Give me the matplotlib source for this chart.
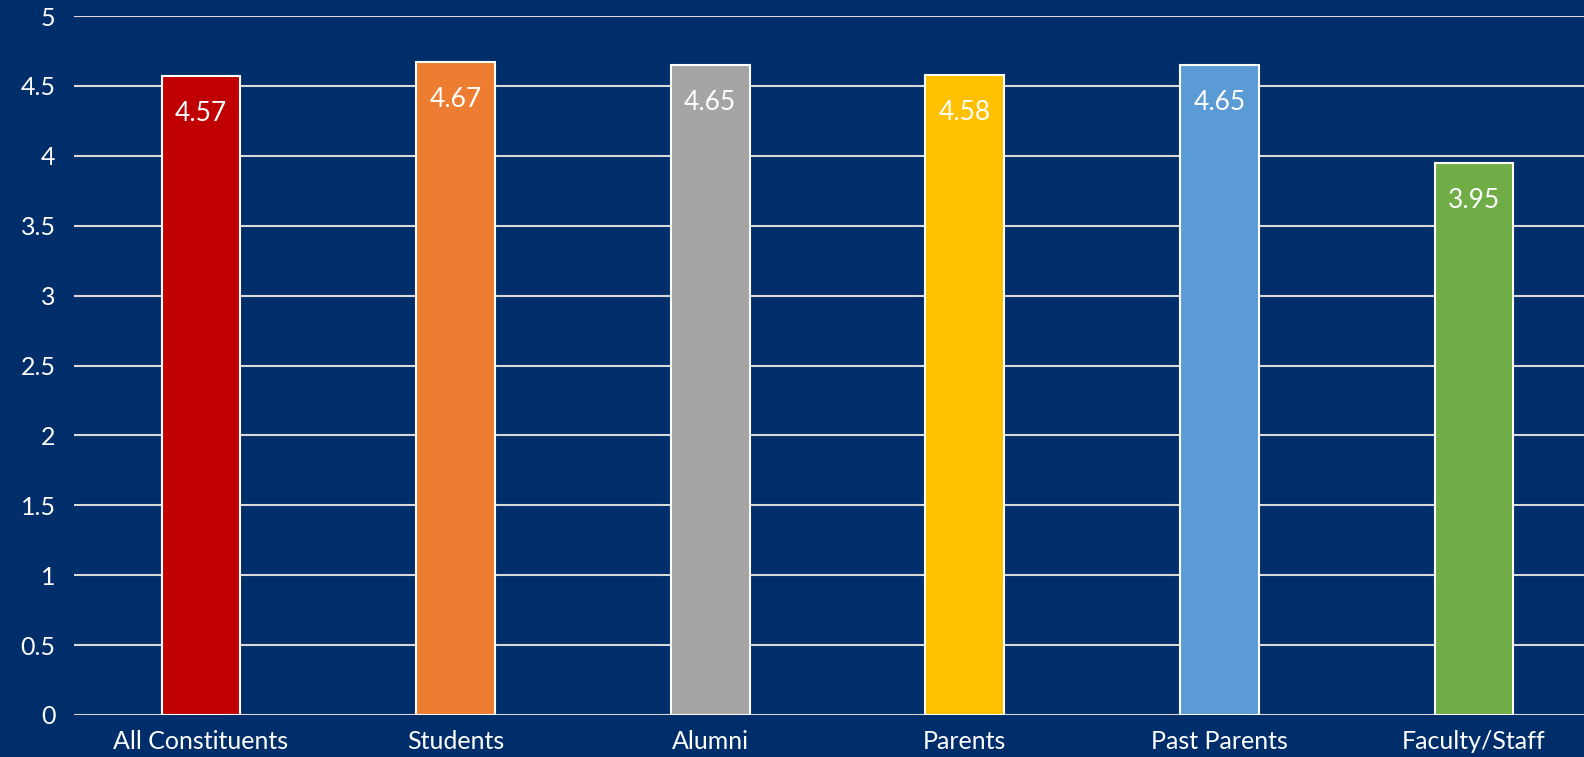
import matplotlib
matplotlib.use("Agg")
import numpy as np
import matplotlib.pyplot as plt

# data
categories = ["All Constituents", "Students", "Alumni", "Parents", "Past Parents", "Faculty/Staff"]
scores = [4.57, 4.67, 4.65, 4.58, 4.65, 3.95]
bar_colors = ["#C00000", "#ED7D31", "#A5A5A5", "#FFC000", "#5B9BD5", "#70AD47"]
yticks = [0, 0.5, 1, 1.5, 2, 2.5, 3, 3.5, 4, 4.5, 5]
ytick_labels = ["0", "0.5", "1", "1.5", "2", "2.5", "3", "3.5", "4", "4.5", "5"]

bg = "#002E6B"
plt.rcParams["font.family"] = ["Lato", "DejaVu Sans"]

fig = plt.figure(figsize=(15.84, 7.57), dpi=100, facecolor=bg)
# axes runs a little past the right edge, like the original crop
ax = fig.add_axes([73.7 / 1584, 1 - 715 / 757, 1527.6 / 1584, 699 / 757])
ax.set_facecolor(bg)

x = np.arange(len(categories))
bars = ax.bar(x, scores, width=0.31, color=bar_colors, edgecolor="white",
              linewidth=1.5, zorder=3)

# value labels inside the top of each bar
for rect, v in zip(bars, scores):
    ax.annotate(f"{v:.2f}", (rect.get_x() + rect.get_width() / 2, v),
                xytext=(0, -27), textcoords="offset points",
                ha="center", va="center", color="white", fontsize=19, zorder=4)

ax.set_ylim(0, 5)
ax.set_xlim(-0.5, len(categories) - 0.5)
ax.set_yticks(yticks)
ax.set_yticklabels(ytick_labels)
ax.set_xticks(x)
ax.set_xticklabels(categories)
ax.grid(axis="y", color="#D9D9D9", linewidth=1.5, zorder=0)
ax.set_axisbelow(True)
for s in ax.spines.values():
    s.set_visible(False)
ax.tick_params(axis="both", length=0, colors="white", labelsize=18)
ax.tick_params(axis="y", pad=13)
ax.tick_params(axis="x", pad=11)

fig.savefig("out.png", dpi=100, facecolor=bg)
